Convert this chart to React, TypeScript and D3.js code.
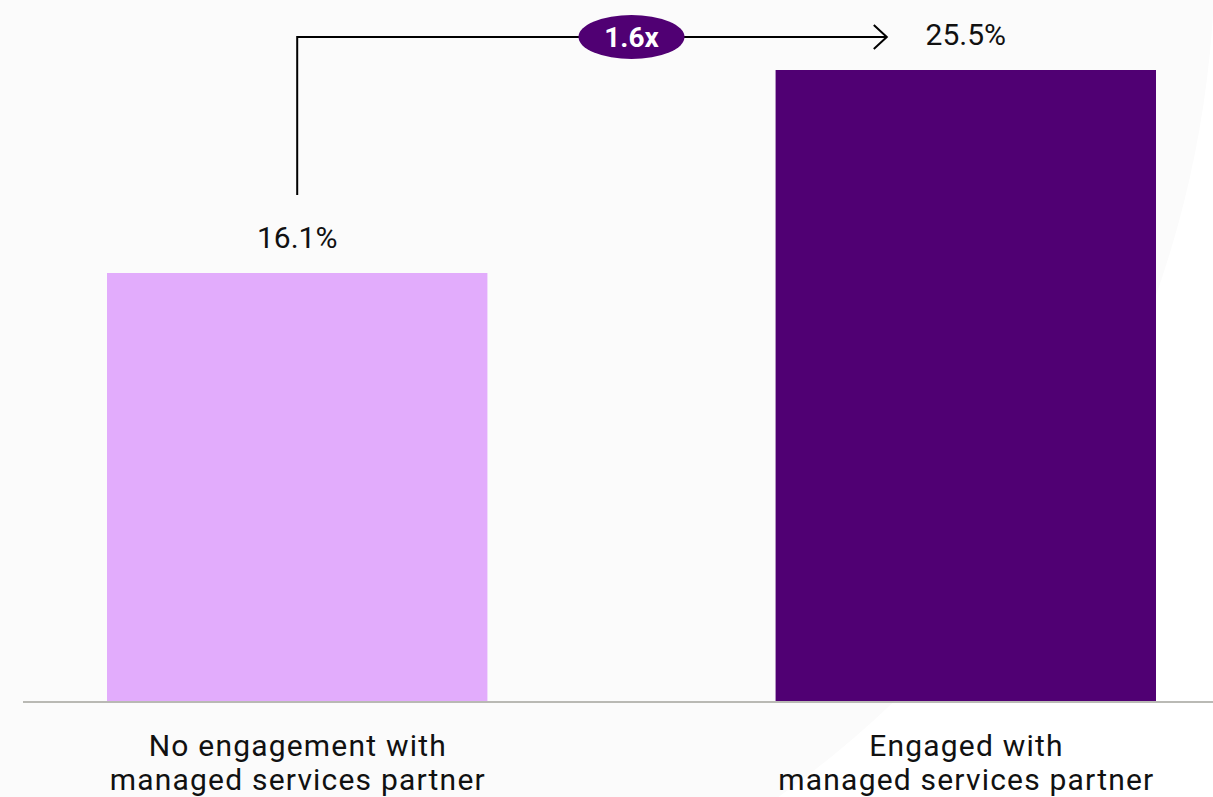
import React from "react";
import * as d3 from "d3";

// chart data
const categories = ["no", "yes"];
const categoryLines = [
  ["No engagement with", "managed services partner"],
  ["Engaged with", "managed services partner"],
];
const values = [16.1, 25.5];
const valueLabels = ["16.1%", "25.5%"];
const barColors = ["#E2ACFC", "#500073"];
const multiplierLabel = "1.6x";

const W = 1213;
const H = 797;
const baseY = 701;
const topY = 70;
const arrowY = 37;

export default function App() {
  const x = d3
    .scaleBand<string>()
    .domain(categories)
    .range([107, 1156])
    .paddingInner(0.431)
    .paddingOuter(0);

  // axis does not start at zero in the original chart
  const y = d3.scaleLinear().domain([-3.72, 25.5]).range([baseY, topY]);

  const cx = (i: number) => (x(categories[i]) ?? 0) + x.bandwidth() / 2;
  const x0 = cx(0);
  const x1 = cx(1);
  const midX = (x0 + x1) / 2;
  const arrowEnd = x1 - 79;

  const linePath = d3.path();
  linePath.moveTo(x0, y(values[0]) - 78);
  linePath.lineTo(x0, arrowY);
  linePath.lineTo(arrowEnd, arrowY);

  const headPath = d3.path();
  headPath.moveTo(arrowEnd - 13, arrowY - 12);
  headPath.lineTo(arrowEnd, arrowY);
  headPath.lineTo(arrowEnd - 13, arrowY + 12);

  return (
    <svg
      width={W}
      height={H}
      style={{ position: "absolute", left: 0, top: 0 }}
      fontFamily="Roboto, 'Liberation Sans', sans-serif"
    >
      <rect width={W} height={H} fill="#ffffff" />
      <circle cx={175} cy={-50} r={1040} fill="#fbfbfb" />

      {values.map((v, i) => (
        <rect
          key={categories[i]}
          x={x(categories[i])}
          y={y(v)}
          width={x.bandwidth()}
          height={baseY - y(v)}
          fill={barColors[i]}
        />
      ))}

      <line x1={23} x2={W} y1={baseY + 1} y2={baseY + 1} stroke="#a3a39d" strokeWidth={1.5} />

      {values.map((v, i) => (
        <text
          key={"v" + i}
          x={cx(i)}
          y={y(v) - 25}
          textAnchor="middle"
          fontSize={30}
          fill="#111"
        >
          {valueLabels[i]}
        </text>
      ))}

      {categoryLines.map((lines, i) => (
        <text
          key={"c" + i}
          x={cx(i)}
          textAnchor="middle"
          fontSize={30}
          letterSpacing={1.2}
          fill="#111"
        >
          {lines.map((l, j) => (
            <tspan key={j} x={cx(i) + 0.6} y={756 + j * 34}>
              {l}
            </tspan>
          ))}
        </text>
      ))}

      <path d={linePath.toString()} fill="none" stroke="#000" strokeWidth={2} />
      <path d={headPath.toString()} fill="none" stroke="#000" strokeWidth={2} />

      <ellipse cx={midX} cy={arrowY} rx={53} ry={22} fill="#500073" />
      <text
        x={midX}
        y={arrowY + 10}
        textAnchor="middle"
        fontSize={28}
        fontWeight="bold"
        fill="#ffffff"
      >
        {multiplierLabel}
      </text>
    </svg>
  );
}
